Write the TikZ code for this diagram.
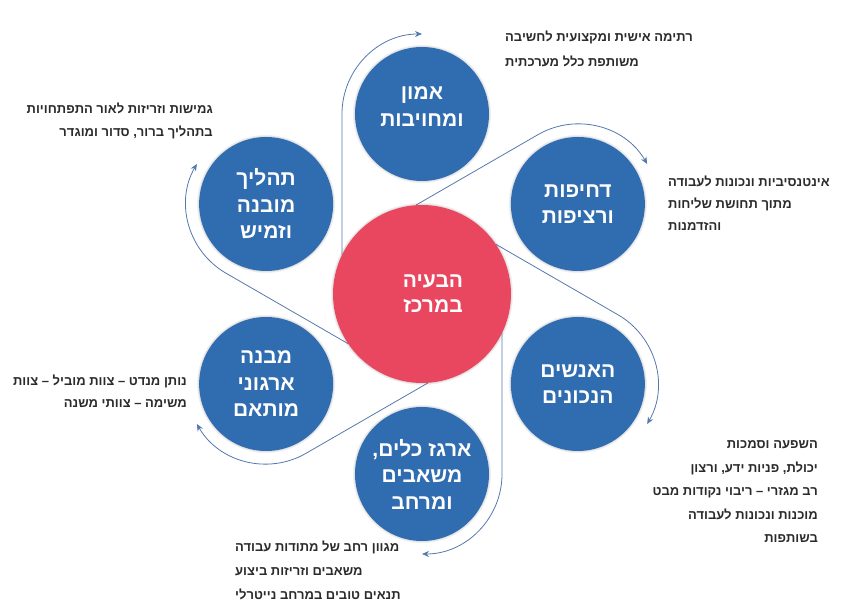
\documentclass[tikz,border=0pt]{standalone}
\usepackage{fontspec}
\usetikzlibrary{calc,arrows.meta}
\TeXXeTstate=1
\newfontfamily\heb[Script=Hebrew]{Liberation Sans}
\newcommand\hb[1]{\beginR#1\endR}
\definecolor{cblue}{HTML}{2F6CB0}
\definecolor{cred}{HTML}{E8475F}
\definecolor{cline}{HTML}{5578AC}
\definecolor{ctext}{HTML}{2B2B2B}
\pgfdeclarelayer{background}
\pgfsetlayers{background,main}
\begin{document}
\begin{tikzpicture}[x=1pt,y=1pt,
  bub/.style={circle, fill=cblue, minimum size=134pt, inner sep=0pt, text=white, align=center,
    font=\heb\bfseries\fontsize{21}{26.5}\selectfont},
  hub/.style={circle, fill=cred, minimum size=178pt, inner sep=0pt, text=white, align=center,
    font=\heb\bfseries\fontsize{21}{25}\selectfont},
  conn/.style={draw=cline, line width=0.8pt, -{Stealth[length=7pt,width=6pt]}},
  lblL/.style={anchor=base west, inner sep=0pt, align=left, text=ctext},
  lblR/.style={anchor=base east, inner sep=0pt, align=right, text=ctext},
  halo/.style={fill=black, opacity=0.06}]
\useasboundingbox (0,0) rectangle (860,612);
\coordinate (c) at (422,318);
\node[hub] (hub) at (c) {\hspace*{22pt}\hb{הבעיה}\\\hspace*{22pt}\hb{במרכז}};
\node[bub] (b1) at ($(c)+(90:180)$) {\hb{אמון}\\\hb{ומחויבות}\\[-12pt]\mbox{}};
\node[bub] (b2) at ($(c)+(30:180)$) {\hb{דחיפות}\\\hb{ורציפות}};
\node[bub] (b3) at ($(c)+(-30:180)$) {\hb{האנשים}\\\hb{הנכונים}};
\node[bub] (b4) at ($(c)+(-90:180)$) {\hb{ארגז כלים,}\\\hb{משאבים}\\\hb{ומרחב}};
\node[bub] (b5) at ($(c)+(-150:180)$) {\hb{מבנה}\\\hb{ארגוני}\\\hb{מותאם}};
\node[bub] (b6) at ($(c)+(150:180)$) {\hb{תהליך}\\\hb{מובנה}\\\hb{וזמיש}};
\begin{pgfonlayer}{background}
\foreach \n in {b1,b2,b3,b4,b5,b6} {
  \fill[halo] (\n.center) circle (69);
  \fill[halo] (\n.center) circle (68);
}
\fill[halo] (hub.center) circle (91);
\fill[halo] (hub.center) circle (90);
\foreach \a/\n in {90/b1,30/b2,-30/b3,-90/b4,-150/b5,150/b6} {
  \draw[conn] ($(hub.center)+({\a+90}:80)+(\a:39)$) -- ($(\n.center)+({\a+90}:80)$)
    arc[start angle={\a+90}, end angle=\a, radius=80];
}
\end{pgfonlayer}
\node[lblL, font=\heb\bfseries\fontsize{13}{25}\selectfont] (l1) at (505,545)
  {\hb{רתימה אישית ומקצועית לחשיבה}\\\hb{משותפת כלל מערכתית}};
\node[lblR, font=\heb\bfseries\fontsize{13}{23}\selectfont] (l6) at (213,475)
  {\hb{גמישות וזריזות לאור התפתחויות}\\\hb{בתהליך ברור, סדור ומוגדר}};
\node[lblL, font=\heb\bfseries\fontsize{13}{22}\selectfont] (l2) at (668,381)
  {\hb{אינטנסיביות ונכונות לעבודה}\\\hb{מתוך תחושת שליחות}\\\hb{והזדמנות}};
\node[lblR, font=\heb\bfseries\fontsize{13}{22}\selectfont] (l5) at (187,204)
  {\hb{נותן מנדט – צוות מוביל – צוות}\\\hb{משימה – צוותי משנה}};
\node[lblR, font=\heb\bfseries\fontsize{13}{23.5}\selectfont] (l3) at (818,69)
  {\hb{השפעה וסמכות}\\\hb{יכולת, פניות ידע, ורצון}\\\hb{רב מגזרי – ריבוי נקודות מבט}\\\hb{מוכנות ונכונות לעבודה}\\\hb{בשותפות}};
\node[lblL, font=\heb\bfseries\fontsize{13}{24}\selectfont] (l4) at (235,12)
  {\hb{מגוון רחב של מתודות עבודה}\\\hb{משאבים וזריזות ביצוע}\\\hb{תנאים טובים במרחב נייטרלי}};
\end{tikzpicture}
\end{document}
